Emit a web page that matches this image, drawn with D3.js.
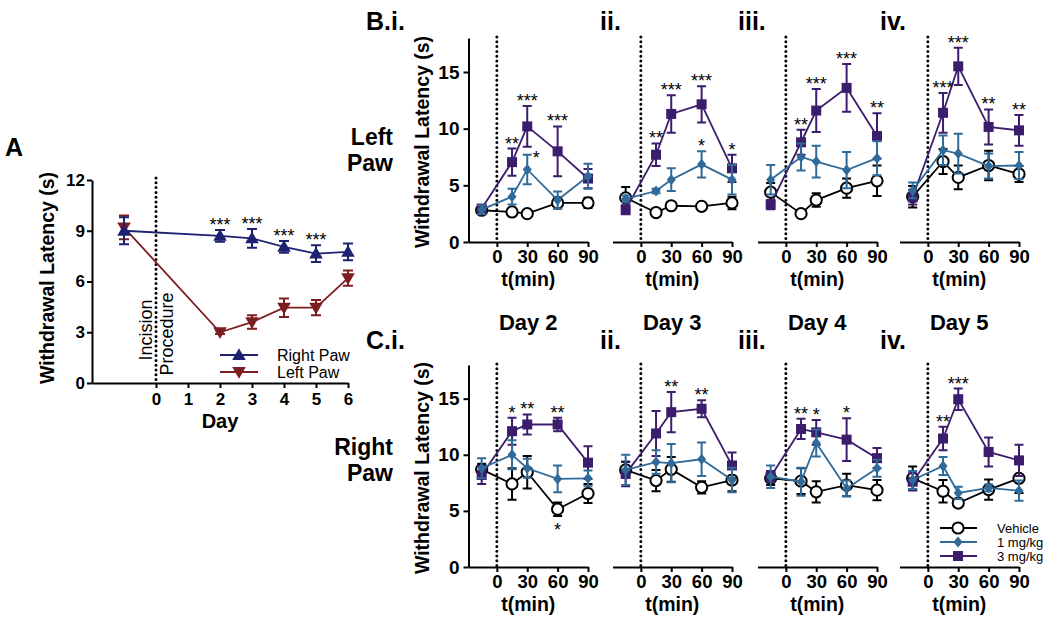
<!DOCTYPE html>
<html><head><meta charset="utf-8">
<script src="https://cdn.jsdelivr.net/npm/d3@7"></script>
<style>body{margin:0;background:#fff}svg{display:block}</style>
</head><body><svg id="c" width="1050" height="622"></svg>
<script>
// ---------- DATA ----------
// Panel A
const dayTicks = [0, 1, 2, 3, 4, 5, 6];
const aYTicks = [0, 3, 6, 9, 12];
const aDays = [-1, 2, 3, 4, 5, 6];
const rightPawMean = [9.0, 8.7, 8.55, 8.05, 7.65, 7.75];
const rightPawErr  = [0.8, 0.35, 0.55, 0.35, 0.5, 0.5];
const leftPawMean  = [9.2, 3.0, 3.6, 4.45, 4.45, 6.2];
const leftPawErr   = [0.7, 0.1, 0.4, 0.55, 0.45, 0.45];
const aStars = ["", "***", "***", "***", "***", ""];

// Panels B / C
const times = [-15, 15, 30, 60, 90];
const tTicks = [0, 30, 60, 90];
const latTicks = [0, 5, 10, 15];
const dayTitles = ["Day 2", "Day 3", "Day 4", "Day 5"];
const panelTags = ["i.", "ii.", "iii.", "iv."];
const doses = ["Vehicle", "1 mg/kg", "3 mg/kg"];

// Left paw (B.i - B.iv)
const leftVehicle    = [[2.8,2.65,2.5,3.45,3.45],[3.9,2.6,3.2,3.15,3.45],[4.4,2.5,3.7,4.75,5.4],[4.0,7.1,5.7,6.75,6.0]];
const leftVehicleErr = [[0.3,0.2,0.15,0.5,0.45],[0.95,0.1,0.15,0.15,0.55],[0.8,0.1,0.6,0.85,1.35],[0.95,1.1,1.05,1.3,0.7]];
const left1mg        = [[2.85,4.0,6.4,3.7,5.8],[3.8,4.5,5.5,6.85,5.5],[5.5,7.5,7.1,6.35,7.4],[4.55,8.1,7.8,6.7,6.75]];
const left1mgErr     = [[0.4,0.7,1.3,0.75,1.1],[0.3,0.2,1.0,1.15,1.3],[1.3,1.2,1.4,1.6,1.5],[0.7,1.3,1.75,1.1,1.2]];
const left3mg        = [[2.95,7.05,10.2,8.0,5.6],[2.85,7.7,11.3,12.15,6.5],[3.3,8.8,11.6,13.6,9.35],[3.95,11.4,15.5,10.15,9.85]];
const left3mgErr     = [[0.3,1.2,1.8,2.2,0.85],[0.4,1.0,1.65,1.6,1.2],[0.4,1.1,1.9,2.1,2.0],[0.65,1.75,1.65,1.55,1.35]];

// Right paw (C.i - C.iv)
const rightVehicle    = [[8.7,7.4,8.45,5.15,6.55],[8.65,7.7,8.7,7.1,7.75],[7.9,7.65,6.7,7.3,6.85],[7.9,6.75,5.7,6.9,7.9]];
const rightVehicleErr = [[0.5,1.4,1.45,0.6,0.85],[0.7,0.95,1.1,0.55,1.0],[0.6,1.15,0.95,1.0,0.9],[1.05,1.0,0.2,0.9,1.3]];
const right1mg        = [[8.8,10.0,8.8,7.85,7.9],[8.65,9.35,9.25,9.6,7.75],[8.05,7.6,11.05,7.0,8.8],[7.75,9.0,6.6,7.05,6.8]];
const right1mgErr     = [[0.9,1.3,0.85,1.2,0.7],[1.35,1.05,1.7,1.5,1.1],[1.0,1.25,1.2,0.7,0.75],[0.8,0.8,0.55,0.3,0.9]];
const right3mg        = [[8.2,12.1,12.7,12.7,9.3],[8.3,11.9,13.8,14.1,9.05],[8.05,12.3,12.0,11.35,9.7],[7.6,11.45,14.95,10.25,9.5]];
const right3mgErr     = [[0.8,1.2,0.9,0.6,1.45],[1.1,2.0,1.8,0.75,1.15],[0.5,0.9,1.1,1.9,0.9],[0.75,1.05,0.95,1.3,1.4]];

// significance marks: [time, dose index, mark, side]
const leftStars = [
  [[15,2,"**","above"],[30,2,"***","above"],[30,1,"*","right"],[60,2,"***","above"]],
  [[15,2,"**","above"],[30,2,"***","above"],[60,2,"***","above"],[60,1,"*","above"],[90,2,"*","above"]],
  [[15,2,"**","above"],[30,2,"***","above"],[60,2,"***","above"],[90,2,"**","above"]],
  [[15,2,"***","above"],[30,2,"***","above"],[60,2,"**","above"],[90,2,"**","above"]]
];
const rightStars = [
  [[15,2,"*","above"],[30,2,"**","above"],[60,2,"**","above"],[60,0,"*","below"]],
  [[30,2,"**","above"],[60,2,"**","above"]],
  [[15,2,"**","above"],[30,2,"*","above"],[60,2,"*","above"]],
  [[15,2,"**","above"],[30,2,"***","above"]]
];

// ---------- DRAWING ----------
const FONT = '"Liberation Sans", Arial, Helvetica, sans-serif';
const svg = d3.select("#c").attr("font-family", FONT);
const C_NAVY = "#1d2170", C_RED = "#7c1e1f", C_BLUE = "#2f6a98", C_PURPLE = "#3c1c6c";
const doseColors = ["#000000", C_BLUE, C_PURPLE];
const doseShapes = ["circle", "diamond", "square"];

function styleAxis(g, fs) {
  g.select(".domain").attr("stroke", "#000").attr("stroke-width", 2);
  g.selectAll(".tick line").attr("stroke", "#000").attr("stroke-width", 2);
  g.selectAll(".tick text").attr("font-size", fs).attr("font-weight", "bold")
    .attr("fill", "#000").attr("font-family", FONT);
}
function dotted(g, x, y1, y2) {
  g.append("line").attr("x1", x).attr("x2", x).attr("y1", y1).attr("y2", y2)
    .attr("stroke", "#000").attr("stroke-width", 3).attr("stroke-linecap", "round")
    .attr("stroke-dasharray", "0,4.8");
}
function marker(g, shape, x, y, color) {
  if (shape === "circle") {
    g.append("circle").attr("cx", x).attr("cy", y).attr("r", 5.6)
      .attr("fill", "#fff").attr("stroke", color).attr("stroke-width", 2);
  } else if (shape === "diamond") {
    g.append("path").attr("d", `M${x},${y-5.5}L${x+4.5},${y}L${x},${y+5.5}L${x-4.5},${y}Z`).attr("fill", color);
  } else if (shape === "square") {
    g.append("rect").attr("x", x-5).attr("y", y-5).attr("width", 10).attr("height", 10).attr("fill", color);
  } else if (shape === "triUp" || shape === "triDown") {
    const p = d3.symbol(d3.symbolTriangle, 80)();
    g.append("path").attr("d", p).attr("fill", color)
      .attr("transform", `translate(${x},${y + (shape==="triUp"?1:-1)})` + (shape === "triDown" ? " rotate(180)" : ""));
  }
}
function errBar(g, x, yLo, yHi, color, cap) {
  g.append("path").attr("d", `M${x},${yLo}V${yHi}M${x-cap},${yLo}H${x+cap}M${x-cap},${yHi}H${x+cap}`)
    .attr("stroke", color).attr("stroke-width", 2).attr("fill", "none");
}
function series(g, xs, ys, xv, mean, err, color, shape, cap) {
  g.append("path").attr("d", d3.line().x((d,i)=>xs(xv[i])).y(d=>ys(d))(mean))
    .attr("fill", "none").attr("stroke", color).attr("stroke-width", 1.8);
  mean.forEach((m,i) => errBar(g, xs(xv[i]), ys(m-err[i]), ys(m+err[i]), color, cap));
  mean.forEach((m,i) => marker(g, shape, xs(xv[i]), ys(m), color));
}
function stars(g, x, y, txt) {
  g.append("text").attr("x", x).attr("y", y).attr("text-anchor", "middle")
    .attr("font-size", 18).attr("fill", "#000").text(txt);
}

// ----- Panel A -----
{
  const g = svg.append("g");
  const ax = d3.scaleLinear().domain([-2, 6]).range([92, 348]);
  const ay = d3.scaleLinear().domain([0, 12]).range([383, 180]);
  g.append("g").attr("transform", "translate(0,383)")
    .call(d3.axisBottom(ax).tickValues(dayTicks).tickSize(5).tickPadding(5).tickSizeOuter(0))
    .call(a => styleAxis(a, 17));
  g.append("g").attr("transform", "translate(92,0)")
    .call(d3.axisLeft(ay).tickValues(aYTicks).tickSize(5).tickPadding(2).tickSizeOuter(0))
    .call(a => styleAxis(a, 17));
  dotted(g, ax(0), ay(12) - 2, ay(0));
  g.append("text").attr("transform", `translate(152,330) rotate(-90)`).attr("text-anchor", "middle")
    .attr("font-size", 18).text("Incision");
  g.append("text").attr("transform", `translate(173,334) rotate(-90)`).attr("text-anchor", "middle")
    .attr("font-size", 18).text("Procedure");
  series(g, ax, ay, aDays, leftPawMean, leftPawErr, C_RED, "triDown", 5);
  series(g, ax, ay, aDays, rightPawMean, rightPawErr, C_NAVY, "triUp", 5);
  aStars.forEach((s, i) => { if (s) stars(g, ax(aDays[i]), ay(rightPawMean[i] + rightPawErr[i]) + 1, s); });
  g.append("text").attr("x", 5).attr("y", 156).attr("font-size", 25).attr("font-weight", "bold").text("A");
  g.append("text").attr("transform", "translate(54,278) rotate(-90)").attr("text-anchor", "middle")
    .attr("font-size", 19.5).attr("font-weight", "bold").text("Withdrawal Latency (s)");
  g.append("text").attr("x", 220).attr("y", 428).attr("text-anchor", "middle")
    .attr("font-size", 20).attr("font-weight", "bold").text("Day");
  // legend
  [["Right Paw", C_NAVY, "triUp", 355], ["Left Paw", C_RED, "triDown", 372]].forEach(([lab, col, sh, y]) => {
    g.append("line").attr("x1", 220).attr("x2", 258).attr("y1", y).attr("y2", y).attr("stroke", col).attr("stroke-width", 1.8);
    marker(g, sh, 239, y, col);
    g.append("text").attr("x", 277).attr("y", y + 6).attr("font-size", 16).text(lab);
  });
}

// ----- Panels B & C -----
const panelX0 = [497, 641, 786, 928];
const rows = [
  { letter: "B", yZero: 242, yTop: 38, tagY: 30, means: [leftVehicle, left1mg, left3mg],
    errs: [leftVehicleErr, left1mgErr, left3mgErr], marks: leftStars, label: ["Left", "Paw"], labelY: [145, 171], titles: false },
  { letter: "C", yZero: 567, yTop: 365, tagY: 349, means: [rightVehicle, right1mg, right3mg],
    errs: [rightVehicleErr, right1mgErr, right3mgErr], marks: rightStars, label: ["Right", "Paw"], labelY: [455, 481], titles: true }
];
const tagX = [366, 600, 738, 880];
const drawOrder = [0, 2, 1];

rows.forEach(row => {
  const ys = d3.scaleLinear().domain([0, 18]).range([row.yZero, row.yTop]);
  row.label.forEach((t, i) => svg.append("text").attr("x", 393).attr("y", row.labelY[i]).attr("text-anchor", "end")
    .attr("font-size", 23).attr("font-weight", "bold").text(t));
  panelX0.forEach((x0, p) => {
    const g = svg.append("g");
    const xs = d3.scaleLinear().domain([-28, 90]).range([x0 - 28.5, x0 + 91]);
    g.append("g").attr("transform", `translate(0,${row.yZero})`)
      .call(d3.axisBottom(xs).tickValues(tTicks).tickSize(5).tickPadding(3).tickSizeOuter(0))
      .call(a => styleAxis(a, 18.5));
    if (p === 0) {
      g.append("g").attr("transform", `translate(${xs(-28)},0)`)
        .call(d3.axisLeft(ys).tickValues(latTicks).tickSize(5).tickPadding(4).tickSizeOuter(0))
        .call(a => styleAxis(a, 19));
      g.append("text").attr("transform", `translate(429,${(row.yZero + row.yTop) / 2 + 2}) rotate(-90)`)
        .attr("text-anchor", "middle").attr("font-size", 19.5).attr("font-weight", "bold").text("Withdrawal Latency (s)");
    }
    dotted(g, xs(0), row.yTop - 1, row.yZero);
    const cx = (xs.range()[0] + xs.range()[1]) / 2;
    g.append("text").attr("x", cx).attr("y", row.yZero + 43.5).attr("text-anchor", "middle")
      .attr("font-size", 19.5).attr("font-weight", "bold").text("t(min)");
    if (row.titles) g.append("text").attr("x", cx).attr("y", 330).attr("text-anchor", "middle")
      .attr("font-size", 22).attr("font-weight", "bold").text(dayTitles[p]);
    g.append("text").attr("x", tagX[p]).attr("y", row.tagY).attr("font-size", 25).attr("font-weight", "bold")
      .text((p === 0 ? row.letter + "." : "") + panelTags[p]);
    drawOrder.forEach(d => series(g, xs, ys, times, row.means[d][p], row.errs[d][p], doseColors[d], doseShapes[d], 4.5));
    row.marks[p].forEach(([t, d, txt, side]) => {
      const i = times.indexOf(t);
      const m = row.means[d][p][i], e = row.errs[d][p][i];
      if (side === "above") stars(g, xs(t), ys(m + e) + 1, txt);
      else if (side === "right") stars(g, xs(t) + 9, ys(m + e) + 9, txt);
      else stars(g, xs(t), ys(m - e) + 20, txt);
    });
  });
});

// legend (C.iv)
doses.forEach((lab, d) => {
  const y = [528, 542, 556][d];
  svg.append("line").attr("x1", 940).attr("x2", 977).attr("y1", y).attr("y2", y)
    .attr("stroke", doseColors[d]).attr("stroke-width", 1.8);
  marker(svg, doseShapes[d], 958, y, doseColors[d]);
  svg.append("text").attr("x", 997).attr("y", y + 5).attr("font-size", 13).text(lab);
});
</script></body></html>
